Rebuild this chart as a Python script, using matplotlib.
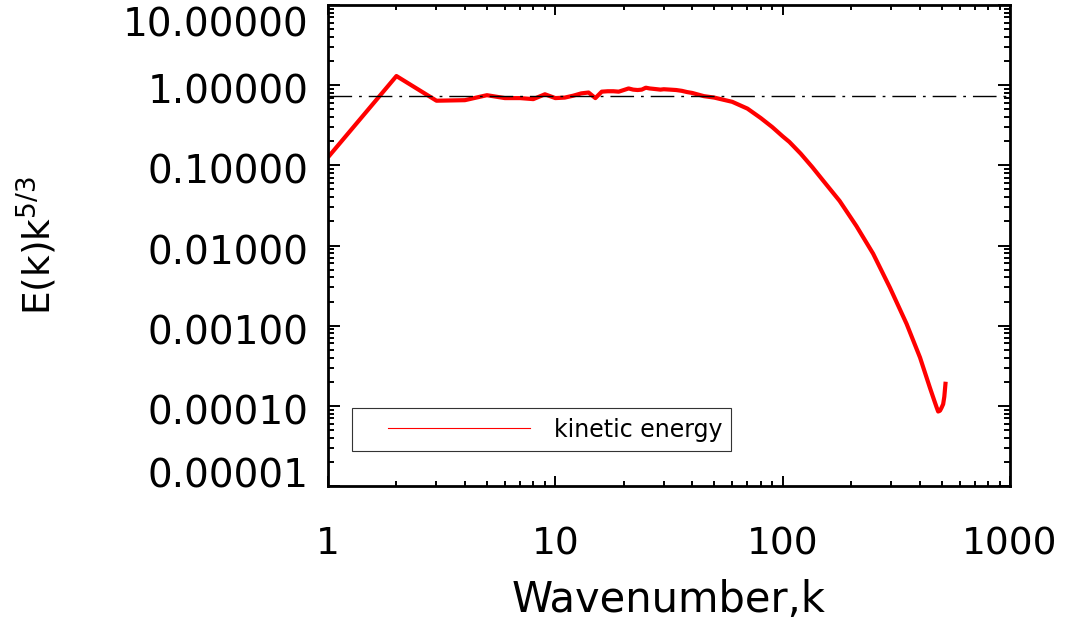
import numpy as np
import matplotlib
matplotlib.use("Agg")
import matplotlib.pyplot as plt
from matplotlib.lines import Line2D
from matplotlib.legend_handler import HandlerLine2D
from matplotlib.ticker import LogLocator, NullFormatter
from matplotlib.transforms import ScaledTranslation

plt.rcParams["mathtext.default"] = "regular"

# compensated kinetic energy spectrum E(k) k^(5/3)
k = [1, 2, 3, 4, 5, 6, 7, 8, 9, 10, 11, 12, 13, 14, 15, 16, 17, 18, 19, 20,
     21, 22, 23, 24, 25, 26, 27, 28, 29, 30, 32, 34, 36, 38, 40, 42, 45, 50,
     60, 70, 80, 90, 100, 107, 120, 135, 151, 178, 211, 250, 296, 351, 402,
     444, 465, 476, 483, 492, 500, 508, 514, 521]
ek = [0.126, 1.30, 0.64, 0.65, 0.75, 0.69, 0.69, 0.67, 0.77, 0.69, 0.70,
      0.74, 0.79, 0.81, 0.69, 0.83, 0.84, 0.84, 0.83, 0.87, 0.91, 0.88, 0.87,
      0.88, 0.93, 0.91, 0.90, 0.89, 0.88, 0.89, 0.88, 0.87, 0.85, 0.82, 0.80,
      0.77, 0.73, 0.70, 0.62, 0.51, 0.39, 0.30, 0.23, 0.196, 0.14, 0.095,
      0.064, 0.036, 0.0175, 0.0079, 0.0030, 0.00105, 0.00040, 0.000169,
      0.000115, 0.000095, 0.000085, 0.000087, 0.000095, 0.000105, 0.00013,
      0.00020]

kolmogorov_level = 0.74
x_ticks = [1, 10, 100, 1000]
x_labels = ["1", "10", "100", "1000"]
y_ticks = [1e-5, 1e-4, 1e-3, 1e-2, 1e-1, 1, 10]
y_labels = ["%.5f" % v for v in y_ticks]

fig = plt.figure(figsize=(10.67, 6.26), dpi=100)
ax = fig.add_axes([0.3074, 0.2236, 0.6392, 0.7684])

ax.plot(k, ek, color="red", lw=3, solid_capstyle="butt", solid_joinstyle="round")
ax.plot(x_ticks[::3], [kolmogorov_level] * 2, color="black", lw=1,
        linestyle=(0, (17, 5, 2, 5)))

ax.set_xscale("log")
ax.set_yscale("log")
ax.set_xlim(1, 1000)
ax.set_ylim(1e-5, 10)

ax.set_xticks(x_ticks, x_labels)
ax.set_yticks(y_ticks, y_labels)
ax.xaxis.set_minor_locator(LogLocator(base=10, subs=np.arange(2, 10), numticks=100))
ax.yaxis.set_minor_locator(LogLocator(base=10, subs=np.arange(2, 10), numticks=100))
ax.xaxis.set_minor_formatter(NullFormatter())
ax.yaxis.set_minor_formatter(NullFormatter())

ax.tick_params(axis="both", which="both", direction="in", top=True, right=True,
               color="black", width=1.4)
ax.tick_params(axis="x", which="major", length=7, labelsize=27, pad=29)
ax.tick_params(axis="x", which="minor", length=3.6)
ax.tick_params(axis="y", which="major", length=8.6, labelsize=28, pad=14)
ax.tick_params(axis="y", which="minor", length=4.3)
for sp in ax.spines.values():
    sp.set_linewidth(2)

# keep the end labels inside the axis range, nudge the rest slightly down
y_shift = [13.5, -3.5, -3.5, -3.5, -3.5, -3.5, -16.5]
for lab, dy in zip(ax.get_yticklabels(), y_shift):
    lab.set_transform(lab.get_transform() + ScaledTranslation(0, dy / 100, fig.dpi_scale_trans))

ax.set_xlabel("Wavenumber,k", fontsize=30, labelpad=12)
ax.set_ylabel(r"E(k)k$^{5/3}$", fontsize=27, labelpad=46)

handle = Line2D([], [], color="red", lw=0.8)
leg = ax.legend([handle], ["kinetic energy"], loc="upper left",
                bbox_to_anchor=(0.035, 0.162), borderaxespad=0, fontsize=17,
                handlelength=7.14, handletextpad=1.0, borderpad=0.4,
                fancybox=False, framealpha=1,
                handler_map={Line2D: HandlerLine2D(xpad=1.13)})
leg.get_frame().set_edgecolor("#333333")
leg.get_frame().set_linewidth(0.8)

fig.savefig("out.png", dpi=100)
